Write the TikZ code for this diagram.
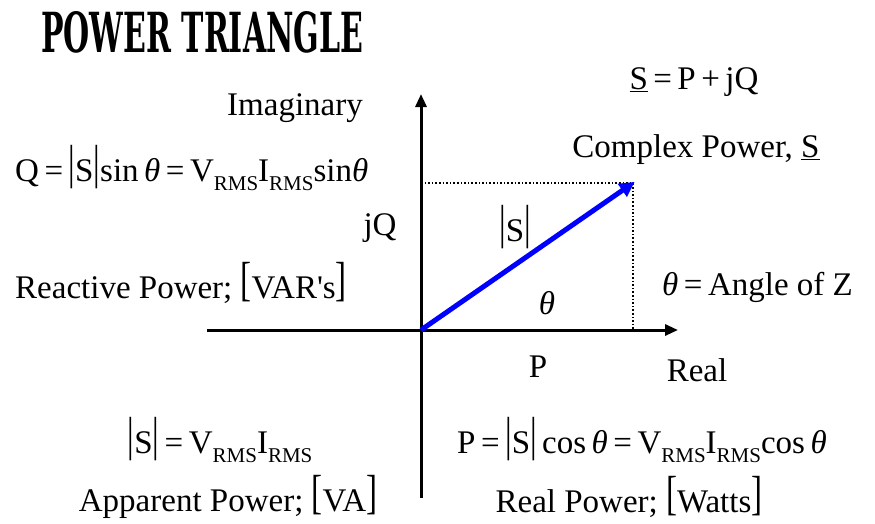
\documentclass[tikz,border=0pt]{standalone}
\usepackage{fontspec}
\setmainfont{Liberation Serif}[Ligatures=TeXOff]
\newfontfamily\titlefont{DejaVu Serif}
\usetikzlibrary{arrows.meta}
\newcommand{\rms}{\raisebox{-0.28em}{\fontsize{21}{21}\selectfont RMS}}
\newcommand{\thet}{\textit{θ}}
\newcommand{\tallbar}{\scalebox{1}[1.45]{|}}
\newcommand{\absS}{\raisebox{0.1em}{\tallbar}S\raisebox{0.1em}{\tallbar}}
\newcommand{\lbr}{\raisebox{0.08em}{\scalebox{1}[1.45]{[}}}
\newcommand{\rbr}{\raisebox{0.08em}{\scalebox{1}[1.45]{]}}}
\newcommand{\eq}{\,=\,}
\begin{document}
\begin{tikzpicture}[x=1pt,y=-1pt,
  txt/.style={inner sep=0pt, font=\fontsize{33}{38}\selectfont},
  axis/.style={line width=3pt, -{Triangle[length=13pt,width=11pt]}},
  vec/.style={blue, line width=5pt, -{Triangle[length=15pt,width=15pt]}, shorten >=-2pt},
  proj/.style={line width=1.6pt, dotted}]
\useasboundingbox (0,0) rectangle (875,523);
\node[inner sep=0pt, anchor=west] (title) at (41,32)
  {\resizebox{322pt}{41pt}{\titlefont\bfseries POWER TRIANGLE}};
\coordinate (O) at (421,330);
\coordinate (xs) at (207,330);
\coordinate (xe) at (678,330);
\coordinate (ye) at (421,94);
\coordinate (yb) at (421,498);
\coordinate (S) at (633,183);
\coordinate (Qp) at (421,183);
\coordinate (Pp) at (633,330);
\draw[proj] (Qp) -- (S) -- (Pp);
\draw[line width=3pt] (O) -- (yb);
\draw[axis] (xs) -- (xe);
\draw[axis] (O) -- (ye);
\draw[vec] (O) -- (S);
\node[txt] (imag) at (295,108) {Imaginary};
\node[txt, anchor=west] (qeq) at (15,168) {Q\eq\absS sin\,\thet\eq V\rms I\rms sin\thet};
\node[txt] (jq) at (380,228) {jQ};
\node[txt, anchor=west] (react) at (15,283) {Reactive Power;\ \lbr VAR's\rbr};
\node[txt] (seq) at (694,82) {\underline{S}\eq P\,+\,jQ};
\node[txt] (cplx) at (696,150) {Complex Power, \underline{S}};
\node[txt] (mag) at (515,227) {\absS};
\node[txt] (th) at (547,303) {\thet};
\node[txt, anchor=west] (ang) at (662,287) {\thet\eq Angle of Z};
\node[txt] (p) at (538,367) {P};
\node[txt] (real) at (697,370) {Real};
\node[txt] (seq2) at (220,440) {\absS\eq V\rms I\rms};
\node[txt] (app) at (228,497) {Apparent Power;\ \lbr VA\rbr};
\node[txt] (peq) at (642,440) {P\eq\absS\,cos\,\thet\eq V\rms I\rms cos\,\thet};
\node[txt] (rp) at (629,497) {Real Power;\ \lbr Watts\rbr};
\end{tikzpicture}
\end{document}
